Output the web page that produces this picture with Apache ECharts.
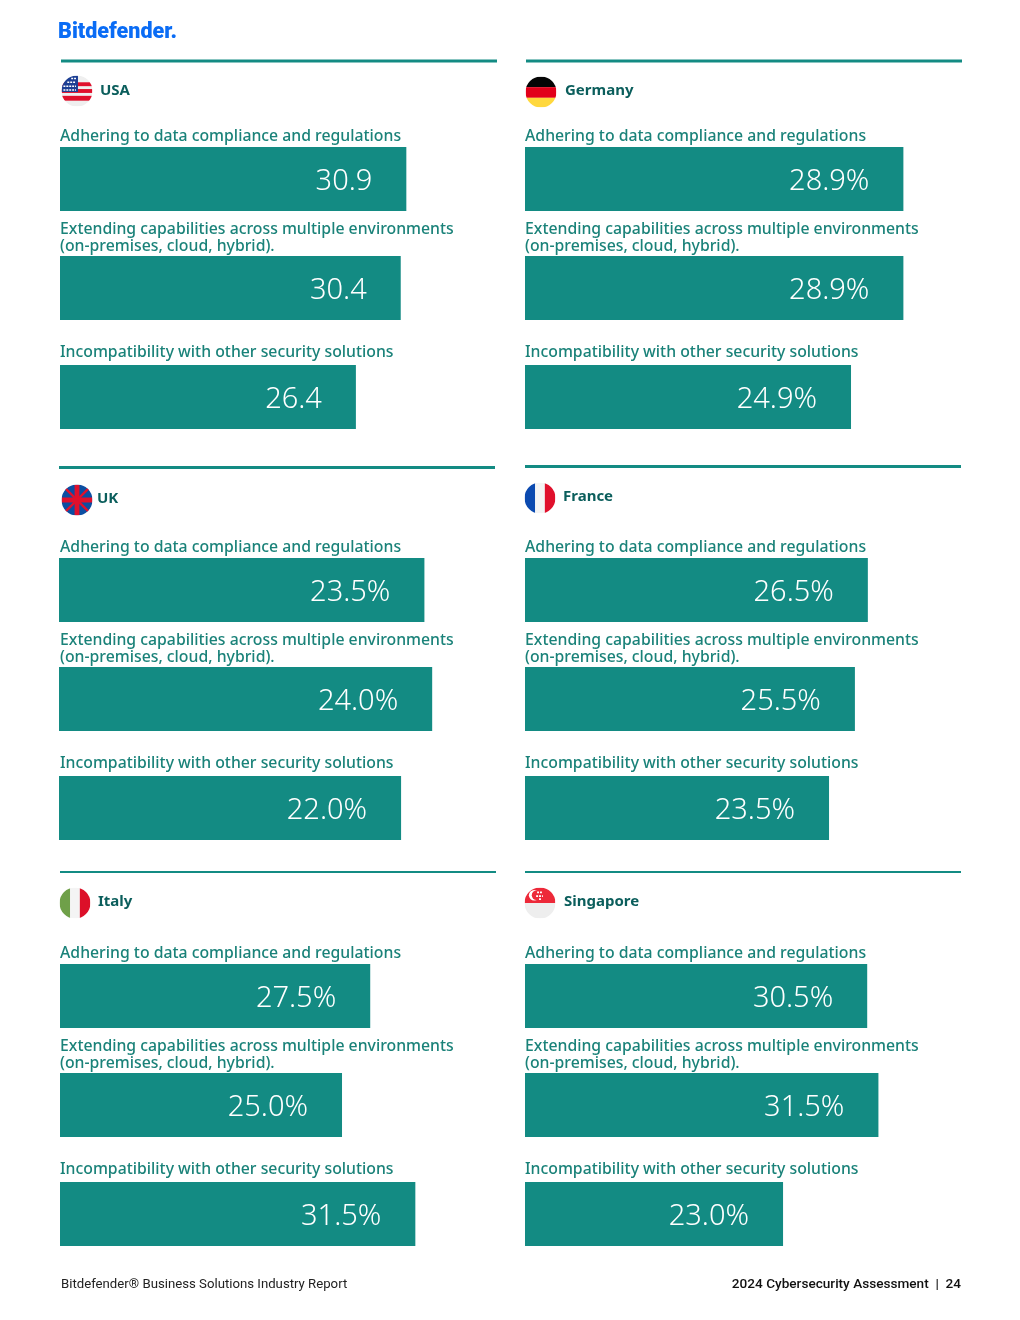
<!DOCTYPE html>
<html>
<head>
<meta charset="utf-8">
<title>Bitdefender 2024 Cybersecurity Assessment</title>
<script src="https://cdn.jsdelivr.net/npm/echarts@6/dist/echarts.min.js"></script>
<style>
  html, body { margin: 0; padding: 0; background: #ffffff; }
  #chart { width: 1020px; height: 1320px; }
</style>
</head>
<body>
<div id="chart"></div>
<script>
const categories = [
  "Adhering to data compliance and regulations",
  "Extending capabilities across multiple environments\n(on-premises, cloud, hybrid).",
  "Incompatibility with other security solutions",
];

const usaValues = [30.9, 30.4, 26.4];
const germanyValues = [28.9, 28.9, 24.9];
const ukValues = [23.5, 24.0, 22.0];
const franceValues = [26.5, 25.5, 23.5];
const italyValues = [27.5, 25.0, 31.5];
const singaporeValues = [30.5, 31.5, 23.0];

const TEAL = "#138b83";
const LABEL = "#1a8279";
const HEADING = "#0b5e5c";
const FONT = '"Noto Sans", sans-serif';

// gap between a category label and the bar under it
const labelGaps = [34, 33, 36];

function flagUri(body) {
  return "data:image/svg+xml," + encodeURIComponent(
    '<svg xmlns="http://www.w3.org/2000/svg" viewBox="0 0 32 32">' +
    '<defs><clipPath id="c"><circle cx="16" cy="16" r="16"/></clipPath></defs>' +
    '<g clip-path="url(#c)">' + body + "</g></svg>"
  );
}

const flags = {
  usa: flagUri(
    '<rect width="32" height="32" fill="#efefef"/>' +
    '<rect y="7" width="32" height="4" fill="#e0102c"/>' +
    '<rect y="14" width="32" height="4" fill="#e0102c"/>' +
    '<rect y="21" width="32" height="5" fill="#e0102c"/>' +
    '<rect width="17" height="17" fill="#1c3f94"/>' +
    '<path d="M10 3h5M6 7h9M2 11h13M2 15h13" stroke="#fff" stroke-width="1.6" stroke-dasharray="2 1"/>'
  ),
  germany: flagUri(
    '<rect width="32" height="11" fill="#050505"/>' +
    '<rect y="11" width="32" height="11" fill="#e2001a"/>' +
    '<rect y="22" width="32" height="10" fill="#ffd83d"/>'
  ),
  uk: flagUri(
    '<rect width="32" height="32" fill="#0b4ea2"/>' +
    '<path d="M4 4L28 28M28 4L4 28" stroke="#e0102c" stroke-width="2.4"/>' +
    '<path d="M16 0V32M0 16H32" stroke="#e0102c" stroke-width="5"/>'
  ),
  france: flagUri(
    '<rect width="11" height="32" fill="#0b4ab0"/>' +
    '<rect x="11" width="10" height="32" fill="#f4f4f4"/>' +
    '<rect x="21" width="11" height="32" fill="#e0102c"/>'
  ),
  italy: flagUri(
    '<rect width="11" height="32" fill="#6fa049"/>' +
    '<rect x="11" width="10" height="32" fill="#f4f4f4"/>' +
    '<rect x="21" width="11" height="32" fill="#dc1029"/>'
  ),
  singapore: flagUri(
    '<rect width="32" height="16" fill="#ed2939"/>' +
    '<rect y="16" width="32" height="16" fill="#eeeeee"/>' +
    '<circle cx="10" cy="8" r="5.5" fill="#fff"/>' +
    '<circle cx="12.5" cy="8" r="5" fill="#ed2939"/>' +
    '<path d="M13 5h5M12 9h7M15 12h3" stroke="#fff" stroke-width="1.8" stroke-dasharray="2 1"/>'
  ),
};

// px layout of each panel, values stay in the arrays above
const panels = [
  { name: "USA", values: usaValues, unit: "", max: 38.9, left: 60, top: 124.5, lineX: 61, lineY: 61, lineW: 3, flag: flags.usa, flagX: 61.5, flagY: 75.5, titleX: 100, titleY: 91 },
  { name: "Germany", values: germanyValues, unit: "%", max: 33.3, left: 525, top: 124.5, lineX: 526, lineY: 61, lineW: 3, flag: flags.germany, flagX: 525.5, flagY: 76.5, titleX: 565, titleY: 91 },
  { name: "UK", values: ukValues, unit: "%", max: 28.04, left: 59, top: 535.5, lineX: 59, lineY: 467.5, lineW: 3, flag: flags.uk, flagX: 61.5, flagY: 484.5, titleX: 97, titleY: 499 },
  { name: "France", values: franceValues, unit: "%", max: 33.7, left: 525, top: 535.5, lineX: 525, lineY: 466.5, lineW: 3, flag: flags.france, flagX: 524.5, flagY: 482.5, titleX: 563, titleY: 497 },
  { name: "Italy", values: italyValues, unit: "%", max: 38.65, left: 60, top: 941.5, lineX: 60, lineY: 872, lineW: 2, flag: flags.italy, flagX: 59.5, flagY: 887.5, titleX: 98, titleY: 902 },
  { name: "Singapore", values: singaporeValues, unit: "%", max: 38.86, left: 525, top: 941.5, lineX: 525, lineY: 872, lineW: 2, flag: flags.singapore, flagX: 524.5, flagY: 887.5, titleX: 564, titleY: 902 },
];

function buildGraphic() {
  const items = [
    {
      type: "text", x: 58, y: 33,
      style: { text: "Bitdefender.", fill: "#0a6cf5", font: '900 21.5px Roboto, sans-serif', textVerticalAlign: "middle" },
    },
    {
      type: "text", x: 61, y: 1285,
      style: { text: "Bitdefender® Business Solutions Industry Report", fill: "#222222", font: "13.2px Roboto, sans-serif", textVerticalAlign: "middle" },
    },
    {
      type: "text", x: 961, y: 1285,
      style: { text: "2024 Cybersecurity Assessment  |  24", fill: "#111111", font: "500 13.6px Roboto, sans-serif", textAlign: "right", textVerticalAlign: "middle" },
    },
  ];
  panels.forEach((p) => {
    items.push({
      type: "line",
      shape: { x1: p.lineX, y1: p.lineY, x2: p.lineX + 436, y2: p.lineY },
      style: { stroke: TEAL, lineWidth: p.lineW },
    });
    items.push({
      type: "image",
      style: { image: p.flag, x: p.flagX, y: p.flagY, width: 31, height: 31 },
    });
    items.push({
      type: "text", x: p.titleX, y: p.titleY,
      style: { text: p.name, fill: HEADING, font: "bold 15px " + FONT, textVerticalAlign: "middle" },
    });
  });
  return items;
}

const chart = echarts.init(document.getElementById("chart"));

chart.setOption({
  animation: false,
  backgroundColor: "#ffffff",
  textStyle: { fontFamily: FONT },
  graphic: buildGraphic(),
  grid: panels.map((p) => ({
    left: p.left,
    top: p.top,
    width: 436,
    height: 327,
    outerBoundsMode: "none",
  })),
  xAxis: panels.map((p, i) => ({
    type: "value",
    gridIndex: i,
    min: 0,
    max: p.max,
    show: false,
  })),
  yAxis: panels.map((p, i) => ({
    type: "category",
    gridIndex: i,
    inverse: true,
    data: categories.map((c, j) => ({
      value: c,
      textStyle: {
        align: "left",
        verticalAlign: "bottom",
        padding: [0, 0, labelGaps[j], 0],
      },
    })),
    axisLine: { show: false },
    axisTick: { show: false },
    axisLabel: {
      inside: true,
      margin: p.left === 59 ? 1 : 0,
      color: LABEL,
      fontFamily: FONT,
      fontSize: 15.8,
      fontWeight: 500,
      lineHeight: 17,
      hideOverlap: false,
    },
  })),
  series: panels.map((p, i) => ({
    name: p.name,
    type: "bar",
    xAxisIndex: i,
    yAxisIndex: i,
    data: p.values,
    barWidth: 64,
    itemStyle: { color: TEAL },
    label: {
      show: true,
      position: "insideRight",
      distance: 34,
      offset: [0, 3],
      formatter: ({ value }) => value.toFixed(1) + p.unit,
      color: "#ffffff",
      fontFamily: FONT,
      fontSize: 29,
      fontWeight: 300,
    },
  })),
});
</script>
</body>
</html>
